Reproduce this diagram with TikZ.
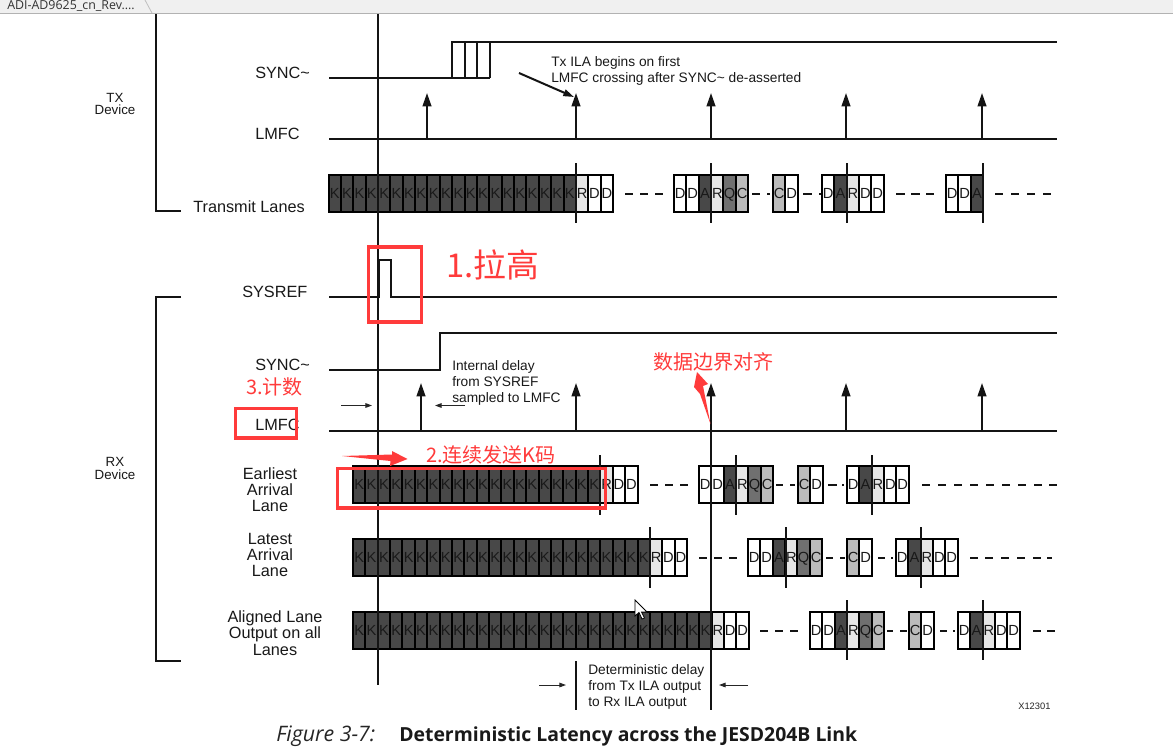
\documentclass[tikz,border=0pt]{standalone}
\usepackage{fontspec}
\setmainfont{Liberation Sans}
\newfontfamily\cjk{Noto Sans CJK SC}
\newfontfamily\capfont{Open Sans}
\usetikzlibrary{arrows.meta}
\definecolor{redmark}{HTML}{FF3B3B}
\definecolor{cdark}{HTML}{484848}
\definecolor{cmid}{HTML}{707070}
\definecolor{cgrey}{HTML}{BBBBBB}
\definecolor{clight}{HTML}{E6E6E6}
\tikzset{
  wave/.style={line width=1.5pt,black!92},
  cell/.style={draw=black,line width=1.5pt,minimum width=9.28pt,minimum height=27.75pt,inner sep=0pt,
    text height=8pt,text depth=0pt,font=\fontsize{11}{12}\selectfont,text=black!90},
  cellK/.style={fill=cdark},cellA/.style={fill=cdark},cellQ/.style={fill=cmid},
  cellC/.style={fill=cgrey},cellR/.style={fill=clight},cellD/.style={fill=white},
  lbl/.style={anchor=base west,inner sep=0pt,font=\fontsize{12.2}{14}\selectfont,text=black!90},
  lblc/.style={anchor=base,inner sep=0pt,font=\fontsize{12.2}{14}\selectfont,text=black!90},
  dev/.style={anchor=base,inner sep=0pt,font=\fontsize{10}{12}\selectfont,text=black!90},
  note/.style={anchor=base west,inner sep=0pt,font=\fontsize{10.3}{12}\selectfont,text=black!90},
  pulse/.style={wave,-{Triangle[length=10pt,width=6.5pt]}},
  thinarrow/.style={line width=.75pt,black!85,-{Triangle[length=5pt,width=3.5pt]}},
  tickline/.style={line width=1.5pt,black!92},
  dsh/.style={line width=1.5pt,black!92},
  redbox/.style={draw=redmark,line width=2.3pt},
  redtext/.style={anchor=base west,inner sep=0pt,text=redmark},
}
\newcommand{\krun}[4]{\pgfmathtruncatemacro\lastk{#4-1}%
  \foreach \i in {0,...,\lastk}{\node[cell,cellK] (#1-\i) at ({#2+(\i+.5)*12.37},#3) {K};}}
\newcommand{\lane}[4]{\foreach \c [count=\i from 0] in {#4}{\node[cell,cell\c] (#1-\i) at ({#2+(\i+.5)*12.37},#3) {\c};}}
\newcommand{\dashrow}[2]{\foreach \a/\b in {#2}{\draw[dsh] (\a,#1) -- (\b,#1);}}
\begin{document}
\begin{tikzpicture}[x=.75pt,y=-.75pt]
\useasboundingbox (0,0) rectangle (1173,753);
\fill[white] (0,0) rectangle (1173,753);
% window tab
\fill[black!6] (0,0) rectangle (1173,13);
\draw[black!30,line width=.75pt] (0,13.5) -- (1173,13.5);
\draw[black!25,line width=.6pt] (145,0) -- (152,13);
\node[anchor=base west,inner sep=0pt,font=\capfont\fontsize{9.3}{11}\selectfont,text=black!80] (tab) at (7,9) {ADI-AD9625\_cn\_Rev....};
% brackets
\draw[wave] (156,14) -- (156,211) -- (181,211);
\draw[wave] (181,297) -- (156,297) -- (156,661) -- (181,661);
\node[dev] (txa) at (115,102) {TX};
\node[dev] (txb) at (115,114) {Device};
\node[dev] (rxa) at (115,466) {RX};
\node[dev] (rxb) at (115,479) {Device};
% labels
\node[lbl] (l1) at (255,78) {SYNC\textasciitilde};
\node[lbl] (l2) at (255,139) {LMFC};
\node[lbl] (l3) at (193,212) {Transmit Lanes};
\node[lbl] (l4) at (242,297) {SYSREF};
\node[lbl] (l5) at (255,370) {SYNC\textasciitilde};
\node[lbl] (l6) at (255,430) {LMFC};
\node[lblc] (e1) at (270,479) {Earliest};
\node[lblc] (e2) at (270,495) {Arrival};
\node[lblc] (e3) at (270,511) {Lane};
\node[lblc] (f1) at (270,544) {Latest};
\node[lblc] (f2) at (270,560) {Arrival};
\node[lblc] (f3) at (270,576) {Lane};
\node[lblc] (g1) at (275,622) {Aligned Lane};
\node[lblc] (g2) at (275,638) {Output on all};
\node[lblc] (g3) at (275,655) {Lanes};
% TX waves
\draw[wave] (329,78) -- (490,78);
\draw[wave] (452,78) -- (452,42) -- (1057,42);
\foreach \x in {465,477,490}{\draw[wave] (\x,78) -- (\x,42);}
\draw[wave] (329,139) -- (1057,139);
\foreach \x in {427,576,711,846,982}{\draw[pulse] (\x,139) -- (\x,93);}
\node[note] (n1) at (551,66) {Tx ILA begins on first};
\node[note] (n2) at (551,82) {LMFC crossing after SYNC\textasciitilde\ de-asserted};
\coordinate (n1from) at (519,73);
\coordinate (n1to) at (574,97);
\draw[wave,-{Triangle[length=8pt,width=5pt]}] (n1from) -- (n1to);
% TX lane
\krun{ta}{328.5}{193}{20}
\lane{tb}{575.9}{193}{R,D,D}
\lane{tc}{674}{193}{D,D,A,R,Q,C}
\lane{td}{773}{193}{C,D}
\lane{te}{822}{193}{D,A,R,D,D}
\lane{tf}{946}{193}{D,D,A}
\dashrow{194}{625/633,640/648,655/663,752/760,767/770,803/812,819/821,896/905,911/920,926/934,995/1003,1011/1019,1027/1035,1043/1051}
\foreach \x in {576,711,846.5,983}{\draw[tickline] (\x,163) -- (\x,223);}
% SYSREF and RX sync
\draw[wave] (329,297) -- (379,297) -- (379,260) -- (390.5,260) -- (390.5,297) -- (1057,297);
\draw[wave] (329,370) -- (440,370) -- (440,333) -- (1057,333);
\node[note] (n3) at (452,370) {Internal delay};
\node[note] (n4) at (452,386) {from SYSREF};
\node[note] (n5) at (452,402) {sampled to LMFC};
\coordinate (a1) at (341,405.5); \coordinate (a2) at (372,405.5);
\coordinate (a3) at (465,405.5); \coordinate (a4) at (435,405.5);
\draw[thinarrow] (a1) -- (a2);
\draw[thinarrow] (a3) -- (a4);
\draw[wave] (329,431) -- (1057,431);
\foreach \x in {421,576,711,846,982}{\draw[pulse] (\x,431) -- (\x,383);}
% Earliest
\krun{ea}{353}{484.5}{20}
\lane{eb}{600.4}{484.5}{R,D,D}
\lane{ec}{699}{484.5}{D,D,A,R,Q,C}
\lane{ed}{798}{484.5}{C,D}
\lane{ee}{847}{484.5}{D,A,R,D,D}
\dashrow{485}{650/658,665/673,680/688,776/783,790/795,828/837,842/844,922/930,938/946,954/962,970/978,986/994,1002/1010,1018/1026,1034/1042,1049/1057}
\foreach \x in {600,736,872}{\draw[tickline] (\x,455) -- (\x,515);}
% Latest
\krun{fa}{353}{557.5}{24}
\lane{fb}{649.9}{557.5}{R,D,D}
\lane{fc}{748}{557.5}{D,D,A,R,Q,C}
\lane{fd}{847}{557.5}{C,D}
\lane{fe}{896}{557.5}{D,A,R,D,D}
\dashrow{558}{699/707,714/722,729/737,826/833,840/845,878/885,891/893,970/978,985/993,1001/1009,1017/1025,1033/1041,1047/1052}
\foreach \x in {650,786,921}{\draw[tickline] (\x,527) -- (\x,588);}
% Aligned
\krun{ga}{353}{630.5}{29}
\lane{gb}{711.7}{630.5}{R,D,D}
\lane{gc}{810}{630.5}{D,D,A,R,Q,C}
\lane{gd}{909}{630.5}{C,D}
\lane{ge}{958}{630.5}{D,A,R,D,D}
\dashrow{631}{760/768,775/783,790/798,887/893,900/907,940/947,953/955,1033/1041,1047/1055}
\foreach \x in {847,983}{\draw[tickline] (\x,600) -- (\x,660);}
% main verticals
\draw[wave] (378,14) -- (378,685);
\draw[wave] (711,425) -- (711,710);
\draw[tickline] (576,661) -- (576,710);
% bottom annotation
\node[note] (n6) at (588,674) {Deterministic delay};
\node[note] (n7) at (588,690) {from Tx ILA output};
\node[note] (n8) at (588,706) {to Rx ILA output};
\coordinate (b1) at (539,685); \coordinate (b2) at (566,685);
\coordinate (b3) at (748,685); \coordinate (b4) at (719,685);
\draw[thinarrow] (b1) -- (b2);
\draw[thinarrow] (b3) -- (b4);
\node[anchor=base west,inner sep=0pt,font=\fontsize{7}{8}\selectfont,text=black!85] (xn) at (1018,709) {X12301};
% caption
\node[anchor=base west,inner sep=0pt,font=\capfont\itshape\fontsize{16}{18}\selectfont,text=black!85] (cap1) at (276,741) {Figure 3-7:};
\node[anchor=base west,inner sep=0pt,font=\capfont\bfseries\fontsize{14.55}{16}\selectfont,text=black!90] (cap2) at (399,741) {Deterministic Latency across the JESD204B Link};
% cursor
\draw[fill=white,line width=.6pt] (635,600) -- (635,616) -- (639,612.5) -- (642,619) -- (644.5,618) -- (641.5,612) -- (647,612) -- cycle;
% red overlay
\draw[redbox] (368.5,247) rectangle (421.5,322);
\draw[redbox] (235.5,408.5) rectangle (296.5,438);
\draw[redbox] (337.5,468.5) rectangle (605.5,508);
\node[redtext,font=\cjk\fontsize{24.6}{26}\selectfont] (r1) at (446,277) {1.拉高};
\node[redtext,font=\cjk\fontsize{15}{17}\selectfont] (r3) at (246,394) {3.计数};
\node[redtext,font=\cjk\fontsize{15}{17}\selectfont] (r2) at (426,462) {2.连续发送K码};
\node[redtext,font=\cjk\fontsize{15}{17}\selectfont] (r4) at (653,369) {数据边界对齐};
\fill[redmark] (342,456) -- (392,454.5) -- (392,451) -- (407.5,459) -- (390,466) -- (390.5,461) -- cycle;
\fill[redmark] (697,372) -- (708,384) -- (703,386) -- (710.5,424) -- (700,394) -- (694,387) -- cycle;
\end{tikzpicture}
\end{document}
